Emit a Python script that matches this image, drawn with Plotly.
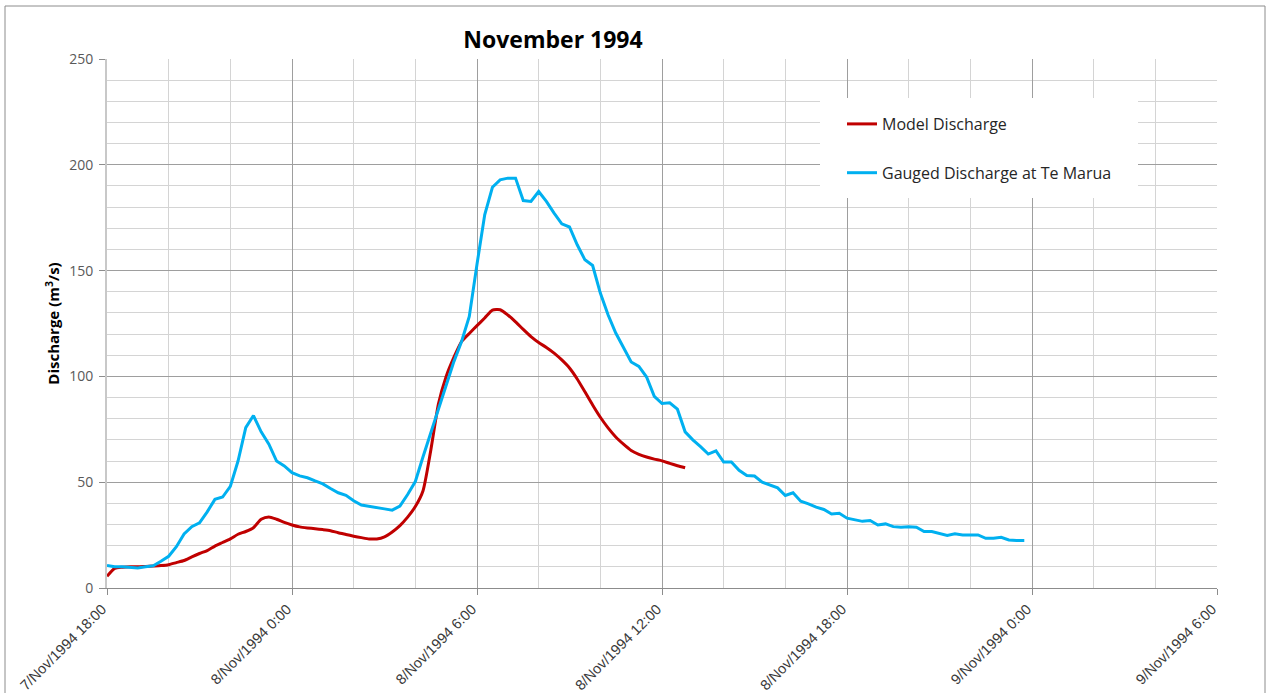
import plotly.graph_objects as go
from datetime import datetime, timedelta

# ---------------- data ----------------
START = datetime(1994, 11, 7, 18, 0)
STEP_MINUTES = 15

# Gauged discharge at Te Marua (m3/s), 15-minute steps from 7/Nov/1994 18:00
gauged_q = [
    10.7, 10.0, 10.0, 9.8, 9.5, 10.0, 10.5, 12.6, 15.0, 19.5,
    25.5, 29.0, 30.8, 36.0, 41.9, 43.0, 48.0, 60.0, 75.8, 81.5,
    73.8, 68.0, 60.0, 57.7, 54.5, 53.0, 52.1, 50.6, 49.2, 47.0,
    45.0, 43.8, 41.2, 39.2, 38.7, 38.2, 37.4, 36.8, 38.7, 44.2,
    50.3, 62.0, 73.0, 84.0, 96.0, 107.0, 116.5, 128.3, 153.0, 176.4,
    189.4, 192.9, 193.7, 193.7, 183.1, 182.7, 187.4, 182.7, 177.2, 172.1,
    170.6, 162.2, 155.1, 152.4, 139.4, 129.1, 120.5, 113.4, 106.8, 104.7,
    99.7, 90.6, 87.2, 87.5, 84.5, 73.8, 70.0, 66.8, 63.3, 64.8,
    59.5, 59.5, 55.6, 53.2, 52.9, 50.0, 48.8, 47.3, 43.7, 45.0,
    41.0, 39.8, 38.2, 37.1, 35.0, 35.3, 33.0, 32.2, 31.5, 31.9,
    29.8, 30.3, 29.0, 28.7, 29.0, 28.7, 26.7, 26.7, 25.9, 24.8,
    25.6, 25.1, 25.1, 25.1, 23.5, 23.5, 24.0, 22.7, 22.4, 22.4,
]

# Model discharge (m3/s), 15-minute steps from 7/Nov/1994 18:00
model_q = [
    5.5, 9.3, 9.8, 10.0, 10.0, 10.2, 10.4, 10.6, 11.0, 12.0,
    13.0, 14.7, 16.3, 17.7, 19.8, 21.5, 23.2, 25.4, 26.7, 28.5,
    32.5, 33.6, 32.5, 31.0, 29.8, 28.9, 28.4, 28.0, 27.6, 27.1,
    26.1, 25.3, 24.5, 23.8, 23.2, 23.2, 24.2, 26.5, 29.5, 33.5,
    38.5, 46.0, 65.0, 87.0, 100.0, 109.0, 116.5, 120.3, 124.0, 127.6,
    131.3, 131.5, 129.0, 125.8, 122.2, 118.8, 116.0, 113.7, 111.0, 107.8,
    104.0, 98.8, 92.7, 86.5, 80.7, 75.7, 71.4, 68.0, 65.0, 63.2,
    61.9, 60.9, 60.1, 58.9, 57.8, 56.8,
]

tick_times = [
    "1994-11-07 18:00", "1994-11-08 00:00", "1994-11-08 06:00",
    "1994-11-08 12:00", "1994-11-08 18:00", "1994-11-09 00:00",
    "1994-11-09 06:00",
]
tick_labels = [
    "7/Nov/1994 18:00", "8/Nov/1994 0:00", "8/Nov/1994 6:00",
    "8/Nov/1994 12:00", "8/Nov/1994 18:00", "9/Nov/1994 0:00",
    "9/Nov/1994 6:00",
]
y_ticks = [0, 50, 100, 150, 200, 250]

gauged_t = [START + timedelta(minutes=STEP_MINUTES * i) for i in range(len(gauged_q))]
model_t = [START + timedelta(minutes=STEP_MINUTES * i) for i in range(len(model_q))]

# ---------------- figure ----------------
fig = go.Figure()
fig.add_trace(go.Scatter(
    x=model_t, y=model_q, mode="lines", name="Model Discharge",
    legendgroup="model",
    line=dict(color="#C00000", width=3, shape="spline", smoothing=0.6),
))
fig.add_trace(go.Scatter(
    x=gauged_t, y=gauged_q, mode="lines", name="Gauged Discharge at Te Marua",
    legendgroup="gauged",
    line=dict(color="#00B0F0", width=3),
))

W, H = 1271, 693
L, R, T, B = 107, 1217, 59, 588


def px_x(p):
    return (p - L) / (R - L)


def px_y(p):
    return (B - p) / (B - T)


fig.update_layout(
    width=W, height=H,
    margin=dict(l=L, r=W - R, t=T, b=H - B, pad=0, autoexpand=False),
    paper_bgcolor="white", plot_bgcolor="white",
    font=dict(family="Open Sans, Arial, sans-serif", color="#404040"),
    title=dict(
        text="<b>November 1994</b>", x=553 / W, xanchor="center",
        y=1 - 40 / H, yanchor="middle", yref="container",
        font=dict(size=23, color="black", family="Open Sans, Arial, sans-serif"),
    ),
    showlegend=True,
    legend=dict(
        x=px_x(842), y=px_y(107), xanchor="left", yanchor="top",
        bgcolor="rgba(0,0,0,0)", borderwidth=0,
        traceorder="grouped", tracegroupgap=25,
        font=dict(size=16, color="#262626", family="Open Sans, Arial, sans-serif"),
    ),
    shapes=[
        dict(type="rect", xref="paper", yref="paper",
             x0=px_x(820), x1=px_x(1138), y0=px_y(198), y1=px_y(98),
             fillcolor="white", line=dict(width=0), layer="above"),
        dict(type="rect", xref="paper", yref="paper",
             x0=px_x(5), x1=px_x(1265), y0=px_y(720), y1=px_y(6),
             fillcolor="rgba(0,0,0,0)", line=dict(color="#8c8c8c", width=1),
             layer="above"),
    ],
)

fig.update_xaxes(
    type="date", automargin=False,
    range=[tick_times[0], tick_times[-1]],
    tickmode="array", tickvals=tick_times, ticktext=tick_labels,
    tickangle=-45,
    tickfont=dict(size=14.5, family="Liberation Sans, Arial, sans-serif", color="#3a3a3a"),
    ticklabelstandoff=0, ticklabelshift=-5,
    showgrid=True, gridcolor="#9e9e9e", gridwidth=1,
    minor=dict(tick0=tick_times[0], dtick=2 * 3600 * 1000, showgrid=True,
               gridcolor="#d4d4d4", gridwidth=1, ticks=""),
    showline=True, linecolor="#8c8c8c", linewidth=1,
    ticks="outside", ticklen=6, tickcolor="#8c8c8c",
    zeroline=False,
)

fig.update_yaxes(
    automargin=False,
    range=[0, 250],
    tickmode="array", tickvals=y_ticks,
    tickfont=dict(size=14, color="#595959"),
    ticklabelstandoff=3,
    showgrid=True, gridcolor="#9e9e9e", gridwidth=1,
    minor=dict(dtick=10, showgrid=True, gridcolor="#d4d4d4", gridwidth=1, ticks=""),
    showline=True, linecolor="#c8c8c8", linewidth=2,
    ticks="outside", ticklen=6, tickcolor="#8c8c8c",
    zeroline=False,
    title=dict(text="<b>Discharge (m<sup>3</sup>/s)</b>", standoff=6,
               font=dict(size=15, color="black")),
)

fig.write_html(
    "out.html",
    config={"displayModeBar": False},
    post_script="document.body.style.margin='0';document.body.style.overflow='hidden';",
)
